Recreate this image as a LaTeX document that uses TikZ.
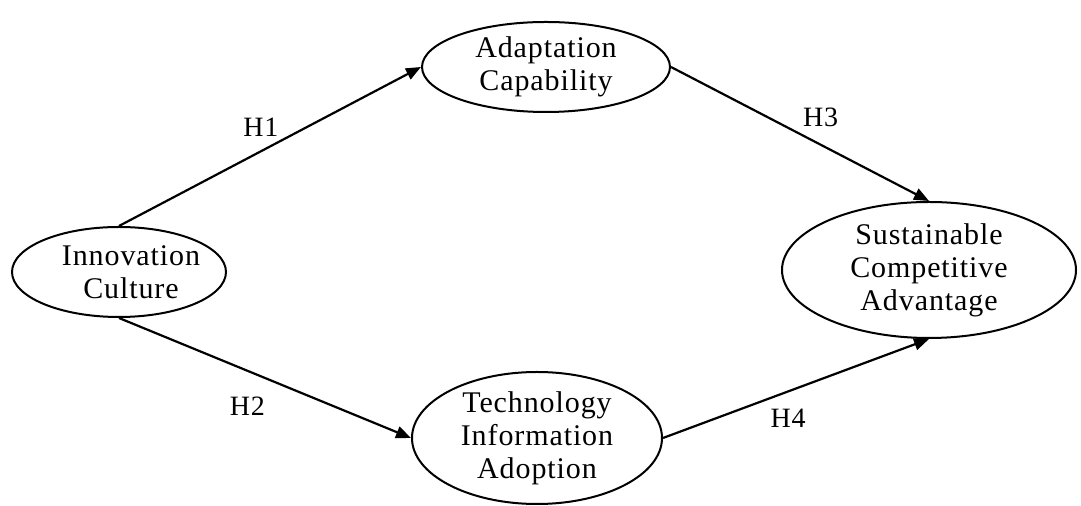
\documentclass[tikz,border=0pt]{standalone}
\usepackage{fontspec}
\setmainfont[LetterSpace=3]{Liberation Serif}
\usetikzlibrary{shapes.geometric, arrows.meta}

\begin{document}
\begin{tikzpicture}[x=0.5pt,y=-0.5pt,
    construct/.style={ellipse,draw,line width=1pt,inner sep=0pt,align=center,font=\fontsize{15}{16.5}\selectfont},
    hyp/.style={-{Triangle[length=7.5pt,width=6pt]},line width=1.1pt},
    hlabel/.style={inner sep=0pt,font=\fontsize{14}{15}\selectfont}]
        \useasboundingbox (0,0) rectangle (1081,506);
        \node[construct,minimum width=107pt,minimum height=45pt] (IC) at (119,272) {\hspace*{6pt}Innovation\hspace*{-6pt}\\\hspace*{6pt}Culture\hspace*{-6pt}};
        \node[construct,minimum width=124pt,minimum height=45pt] (AC) at (546,67) {Adaptation\\Capability};
        \node[construct,minimum width=125pt,minimum height=66pt] (TIA) at (537,438) {Technology\\Information\\Adoption};
        \node[construct,minimum width=147pt,minimum height=68pt] (SCA) at (929,270) {Sustainable\\Competitive\\Advantage};

        \draw[hyp] (IC.north) -- node[hlabel,pos=0.47,above=7pt] {H1} (AC.west);
        \draw[hyp] (IC.south) -- node[hlabel,pos=0.44,below=12.5pt] {H2} (TIA.west);
        \draw[hyp] (AC.east) -- node[hlabel,pos=0.58,above=8.5pt] {H3} (SCA.north);
        \draw[hyp] (TIA.east) -- node[hlabel,pos=0.47,below=8.5pt] {H4} (SCA.south);
    \end{tikzpicture}
\end{document}
